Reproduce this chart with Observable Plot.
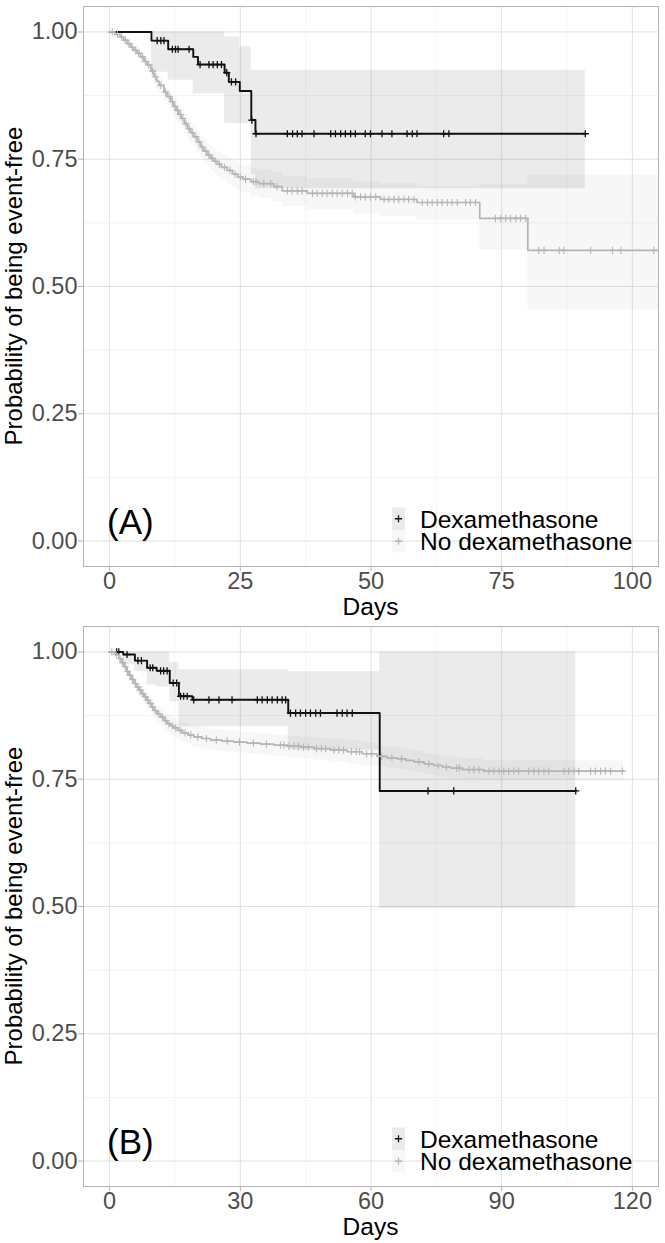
<!DOCTYPE html>
<html><head><meta charset="utf-8">
<script src="https://cdn.jsdelivr.net/npm/d3@7"></script>
<script src="https://cdn.jsdelivr.net/npm/@observablehq/plot@0.6"></script>
<style>
body{margin:0;background:#fff;}
#chart svg{display:block;}
</style>
</head><body><div id="chart"></div>
<script>
// ---------- data ----------
const groups = ["Dexamethasone", "No dexamethasone"];
const panelLabels = ["(A)", "(B)"];
const yTicks = [0, 0.25, 0.5, 0.75, 1];
const xTicksA = [0, 25, 50, 75, 100];
const xTicksB = [0, 30, 60, 90, 120];

// Panel A, Dexamethasone
const tA_dex = [0, 8.0, 11.2, 16.0, 16.9, 22.0, 22.8, 24.9, 27.1, 27.9];
const sA_dex = [1, 0.983, 0.966, 0.951, 0.936, 0.920, 0.902, 0.884, 0.827, 0.800];
const loA_dex = [1, 0.921, 0.905, 0.878, 0.878, 0.820, 0.820, 0.820, 0.720, 0.692];
const hiA_dex = [1, 1, 1, 1, 1, 0.990, 0.990, 0.971, 0.925, 0.925];
const endA_dex = 91;
const cA_dex = [9.1, 9.8, 10.4, 12.0, 12.6, 13.1, 15.2, 17.3, 19.0, 19.8, 20.6, 21.4, 22.4, 23.3, 24.1, 27.2, 28.0, 34.0, 35.0, 35.9, 36.8, 39.1, 42.3, 43.2, 44.2, 45.1, 46.1, 47.0, 48.9, 49.9, 52.1, 54.0, 56.9, 57.9, 58.8, 63.9, 64.9, 91];

// Panel A, No dexamethasone
const tA_no = [0,1.0,2.0,2.7,3.4,4.0,4.6,5.3,5.9,6.6,7.2,7.9,8.5,9.0,9.5,10.4,11.0,11.7,12.2,12.7,13.2,13.7,14.3,14.9,15.5,16.1,16.8,17.4,18.0,18.7,19.3,19.9,20.6,21.4,22.5,23.5,24.5,25.5,27.0,28.5,31.4,33.0,37.8,46.7,51.8,58.8,70.8,80.0];
const sA_no = [1,.995,.990,.984,.977,.970,.964,.958,.951,.942,.935,.923,.912,.903,.895,.882,.873,.863,.854,.846,.838,.830,.820,.810,.802,.794,.784,.774,.766,.758,.752,.746,.740,.734,.728,.721,.715,.711,.706,.702,.696,.688,.683,.676,.671,.665,.634,.571];
const loA_no = [1,.990,.984,.977,.969,.961,.954,.947,.939,.929,.921,.908,.897,.887,.879,.865,.856,.845,.836,.827,.819,.811,.800,.790,.781,.773,.762,.752,.743,.735,.728,.722,.715,.709,.702,.695,.688,.684,.678,.673,.666,.657,.651,.643,.637,.630,.571,.455];
const hiA_no = [1,1,.996,.991,.985,.979,.973,.968,.962,.954,.948,.937,.927,.918,.911,.898,.889,.880,.871,.864,.856,.848,.839,.829,.822,.814,.805,.795,.788,.780,.775,.769,.764,.758,.752,.746,.740,.737,.732,.729,.724,.717,.712,.706,.702,.697,.700,.719];
const endA_no = 105;
const cA_no = [0.5,1.5,2.3,3.0,3.7,4.3,5.0,5.6,6.3,6.9,7.5,8.2,8.8,9.8,10.7,11.4,12.0,12.5,13.0,13.5,14.0,14.6,15.2,15.8,16.5,17.1,17.7,18.4,19.0,19.6,20.3,21.0,22.0,23.0,24.0,25.0,26.0,27.5,28.0,29.5,30.8,32.0,34.0,34.9,35.9,36.8,38.8,39.7,40.7,41.6,42.6,43.5,44.5,45.5,46.4,47.0,48.0,48.9,49.9,50.9,52.5,53.4,54.4,55.3,56.3,57.2,58.2,59.8,60.8,61.7,62.7,63.6,64.6,65.5,66.5,68.1,69.0,70.0,73.8,74.8,75.8,76.7,77.7,78.6,79.6,82.1,83.1,86.0,86.9,92.0,96.2,97.8,104.1];

// Panel B, Dexamethasone
const tB_dex = [0, 3.1, 5.8, 8.6, 10.8, 13.8, 15.9, 19.0, 41.0, 62.0];
const sB_dex = [1, 0.995, 0.983, 0.969, 0.963, 0.939, 0.913, 0.906, 0.880, 0.727];
const loB_dex = [1, 0.975, 0.961, 0.935, 0.931, 0.902, 0.853, 0.853, 0.807, 0.496];
const hiB_dex = [1, 1, 1, 1, 1, 0.980, 0.965, 0.965, 0.961, 1.0];
const endB_dex = 107;
const cB_dex = [1.6, 2.1, 4.0, 6.5, 7.3, 9.3, 9.9, 11.7, 12.4, 13.2, 14.6, 15.4, 16.3, 17.0, 17.8, 19.3, 22.8, 25.1, 28.1, 33.9, 35.0, 36.2, 37.3, 38.5, 39.6, 40.4, 41.5, 42.7, 43.8, 45.0, 46.1, 47.3, 48.4, 52.2, 53.4, 54.5, 55.7, 73.1, 79.0, 107];

// Panel B, No dexamethasone
const tB_no = [0,1.2,2.1,2.7,3.3,3.9,4.4,5.0,5.6,6.2,6.7,7.3,7.9,8.5,9.0,9.6,10.1,10.9,11.7,12.5,13.2,14.0,14.7,15.7,16.7,18.0,19.3,21.2,23.2,25.8,28.5,31.5,34.6,37.7,40.8,43.8,46.9,50.7,54.5,58.0,61.4,63.7,66.0,68.0,69.9,72.2,74.4,76.4,78.3,81.0,85.9];
const sB_no = [1,.995,.987,.979,.971,.962,.954,.946,.938,.931,.925,.918,.912,.905,.899,.892,.885,.878,.872,.865,.859,.855,.851,.846,.841,.837,.833,.830,.827,.825,.823,.821,.819,.817,.815,.813,.810,.807,.804,.800,.795,.792,.790,.787,.784,.780,.777,.774,.772,.769,.766];
const loB_no = [1,.991,.982,.973,.964,.954,.945,.936,.927,.919,.912,.904,.897,.890,.883,.876,.868,.861,.854,.847,.841,.836,.832,.827,.822,.817,.813,.809,.806,.804,.802,.799,.797,.795,.792,.790,.787,.784,.780,.776,.774,.771,.769,.766,.763,.759,.756,.753,.751,.749,.747];
const hiB_no = [1,.998,.992,.985,.978,.970,.963,.956,.949,.943,.938,.932,.927,.920,.915,.908,.902,.895,.890,.883,.877,.874,.870,.865,.860,.856,.853,.850,.847,.845,.843,.841,.839,.837,.835,.833,.830,.828,.825,.821,.816,.813,.811,.808,.805,.801,.798,.795,.793,.790,.787];
const endB_no = 118;
const cB_no = [0.5,1.5,2.4,3.0,3.6,4.1,4.7,5.3,5.9,6.5,7.0,7.6,8.2,8.8,9.3,9.9,10.5,11.3,12.1,12.9,13.6,14.4,15.2,16.2,17.3,18.6,20.2,22.2,24.5,27.0,29.8,33.0,36.0,39.2,40.0,41.2,42.3,43.3,44.5,45.6,47.5,48.6,49.6,51.5,52.6,53.7,55.5,56.6,57.4,59.0,60.2,62.5,64.8,67.0,71.0,73.3,75.4,77.3,79.7,80.3,82.5,83.6,84.8,87.1,88.2,89.4,90.5,91.6,92.8,93.9,96.2,97.4,98.5,99.7,100.8,104.3,105.4,106.6,107.7,110.4,111.5,112.7,113.8,115.0,117.7];

// ---------- helpers ----------
const FONT = '"Liberation Sans", Arial, sans-serif';
const lineColor = {"Dexamethasone": "#111111", "No dexamethasone": "#b5b5b5"};
const bandFill = {"Dexamethasone": "#000000", "No dexamethasone": "#b3b3b3"};
const bandOpacity = {"Dexamethasone": 0.08, "No dexamethasone": 0.11};

const plusSymbol = {
  draw(ctx, size) {
    const r = Math.sqrt(size / Math.PI);
    ctx.moveTo(-r, 0); ctx.lineTo(r, 0);
    ctx.moveTo(0, -r); ctx.lineTo(0, r);
  }
};

function stepValue(times, vals, t) {
  let v = vals[0];
  for (let i = 0; i < times.length; i++) if (times[i] <= t) v = vals[i];
  return v;
}

function series(group, times, surv, lo, hi, end, cens) {
  const pts = times.map((t, i) => ({group, t, s: surv[i], lo: lo[i], hi: hi[i]}));
  pts.push({group, t: end, s: surv[surv.length - 1], lo: lo[lo.length - 1], hi: hi[hi.length - 1]});
  const marks = cens.map(t => ({group, t, s: stepValue(times, surv, t)}));
  return {group, pts, marks};
}

function panel({label, xDomain, xTicks, xMinor, serie, height, marginBottom}) {
  const yMinor = [0.125, 0.375, 0.625, 0.875];
  const marks = [
    Plot.ruleX(xMinor, {stroke: "#ececec", strokeWidth: 0.6}),
    Plot.ruleY(yMinor, {stroke: "#ececec", strokeWidth: 0.6}),
    Plot.ruleX(xTicks, {stroke: "#e0e0e0", strokeWidth: 1}),
    Plot.ruleY(yTicks, {stroke: "#e0e0e0", strokeWidth: 1})
  ];
  for (const s of serie.slice().reverse()) {
    marks.push(Plot.areaY(s.pts, {x: "t", y1: "lo", y2: "hi", curve: "step-after",
      fill: bandFill[s.group], fillOpacity: bandOpacity[s.group], clip: true}));
  }
  for (const s of serie) {
    marks.push(Plot.line(s.pts, {x: "t", y: "s", curve: "step-after",
      stroke: lineColor[s.group], strokeWidth: s.group === groups[0] ? 1.9 : 1.7, clip: true}));
    marks.push(Plot.dot(s.marks, {x: "t", y: "s", symbol: plusSymbol, r: 3.6,
      stroke: lineColor[s.group], strokeWidth: s.group === groups[0] ? 1.3 : 1.1, fill: "none", clip: true}));
  }
  marks.push(Plot.frame({stroke: "#b3b3b3", strokeWidth: 1}));
  marks.push(Plot.axisX(xTicks, {tickSize: 5, tickPadding: 1, stroke: "#b3b3b3", fill: "#4d4d4d",
    label: null, fontSize: 23.5}));
  marks.push(Plot.axisY(yTicks, {tickSize: 5, tickPadding: 1, stroke: "#b3b3b3", fill: "#4d4d4d",
    tickFormat: d3.format(".2f"), label: null, fontSize: 23.5}));

  const svg = Plot.plot({
    width: 665, height, marginLeft: 83, marginRight: 7, marginTop: 6, marginBottom,
    style: {fontFamily: FONT, background: "#fff"},
    x: {domain: xDomain, label: null},
    y: {domain: [-0.05, 1.05], label: null},
    marks
  });

  const sel = d3.select(svg);
  const top = 6, bottom = height - marginBottom;
  const midY = (top + bottom) / 2;
  // axis titles
  sel.append("text").attr("transform", `translate(22,${midY}) rotate(-90)`)
    .attr("text-anchor", "middle").attr("font-family", FONT).attr("font-size", 24)
    .attr("fill", "#000").text("Probability of being event-free");
  sel.append("text").attr("x", 83 + (665 - 7 - 83) / 2).attr("y", bottom + 49)
    .attr("text-anchor", "middle").attr("font-family", FONT).attr("font-size", 24.5)
    .attr("fill", "#000").text("Days");
  // panel label
  sel.append("text").attr("x", 107).attr("y", bottom - 32).attr("text-anchor", "start")
    .attr("font-family", FONT).attr("font-size", 35).attr("fill", "#000").text(label);
  // legend
  const lx = 392, ly = bottom - 58.5, kh = 22.5, kw = 13;
  serie.forEach((s, i) => {
    const g = sel.append("g").attr("transform", `translate(${lx},${ly + i * kh})`);
    g.append("rect").attr("width", kw).attr("height", kh).attr("fill", bandFill[s.group])
      .attr("fill-opacity", bandOpacity[s.group]);
    g.append("path").attr("d", `M${kw/2 - 3.6},${kh/2}H${kw/2 + 3.6}M${kw/2},${kh/2 - 3.6}V${kh/2 + 3.6}`)
      .attr("stroke", lineColor[s.group]).attr("stroke-width", 1.3);
    g.append("text").attr("x", kw + 15).attr("y", kh / 2).attr("dy", "0.36em")
      .attr("text-anchor", "start")
      .attr("font-family", FONT).attr("font-size", 24.5).attr("fill", "#000").text(s.group);
  });
  return svg;
}

const serieA = [
  series(groups[0], tA_dex, sA_dex, loA_dex, hiA_dex, endA_dex, cA_dex),
  series(groups[1], tA_no, sA_no, loA_no, hiA_no, endA_no, cA_no)
];
const serieB = [
  series(groups[0], tB_dex, sB_dex, loB_dex, hiB_dex, endB_dex, cB_dex),
  series(groups[1], tB_no, sB_no, loB_no, hiB_no, endB_no, cB_no)
];

const root = document.getElementById("chart");
root.appendChild(panel({label: panelLabels[0], xDomain: [-5, 105], xTicks: xTicksA,
  xMinor: [12.5, 37.5, 62.5, 87.5], serie: serieA, height: 620, marginBottom: 54}));
root.appendChild(panel({label: panelLabels[1], xDomain: [-6, 126], xTicks: xTicksB,
  xMinor: [15, 45, 75, 105], serie: serieB, height: 623, marginBottom: 57}));
</script></body></html>
